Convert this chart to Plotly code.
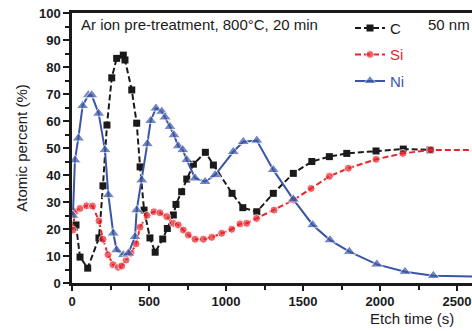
import plotly.graph_objects as go

# Depth profile: atomic percent vs etch time
c_time = [26, 52, 102, 175, 201, 227, 258, 290, 333, 344, 388, 420, 442, 468, 506, 540,
          589, 619, 658, 675, 712, 745, 788, 866, 918, 1039, 1109, 1200, 1307, 1437,
          1557, 1671, 1784, 1974, 2151, 2325]
c_val = [21.5, 9.6, 5.5, 16.7, 36, 58.5, 76, 83.2, 84.4, 82.6, 71.5, 59.2, 43, 27, 16.7, 11.4,
         16.3, 20.2, 25.2, 29.1, 33.8, 38.5, 44, 48.4, 43.7, 33.2, 27.9, 26.4, 33.2, 40.6,
         45, 46.8, 48, 48.9, 49.6, 49.3]

si_time = [5, 19, 52, 95, 133, 175, 201, 234, 266, 301, 323, 351, 383, 416, 442, 487, 532,
           571, 615, 658, 690, 723, 755, 799, 853, 907, 972, 1037, 1091, 1134, 1198, 1312,
           1437, 1552, 1671, 1794, 1974, 2148, 2329, 2700]
si_val = [19.6, 26.4, 27.6, 28.6, 28.5, 23, 16.2, 10.5, 6.8, 5.8, 6.3, 8.5, 11, 14.5, 20.7, 25,
          26.4, 26, 24.6, 22.1, 21.5, 19.6, 17.8, 16.2, 16.2, 16.9, 18.4, 19.9, 21.9, 22.1,
          23.9, 27, 30.7, 35, 39.5, 42.5, 45.8, 48, 49.3, 49.3]

ni_time = [6, 19, 41, 69, 106, 128, 173, 214, 236, 268, 290, 333, 366, 409, 420, 453, 489, 511,
           545, 583, 604, 636, 662, 690, 719, 745, 799, 864, 929, 1047, 1112, 1200, 1307, 1437,
           1563, 1675, 1801, 1979, 2162, 2346, 2700]
ni_val = [25, 45.5, 53.6, 65.6, 69.6, 69.6, 62.8, 49.3, 32.6, 18.4, 12.2, 10.4, 11, 17.1, 27,
          38.1, 51.5, 60.1, 64.7, 63.5, 61.4, 57.9, 54.8, 50.7, 49.3, 45.6, 38.8, 37.5, 40, 48.6,
          52.3, 52.8, 41.9, 31, 21.5, 15.9, 11.6, 6.9, 4.2, 2.7, 2.3]

x_ticks = [0, 500, 1000, 1500, 2000, 2500]
y_ticks = [0, 10, 20, 30, 40, 50, 60, 70, 80, 90, 100]

BLACK = "#1a1a1a"
RED = "#e8242b"
BLUE = "#3a55a6"
FONT = "Liberation Sans, Arial, sans-serif"


def sizes(n, s, tail_hidden):
    out = [s] * n
    if tail_hidden:
        out[-1] = 0
    return out


fig = go.Figure()
fig.add_trace(go.Scatter(
    x=c_time, y=c_val, mode="lines+markers", name="C", legendgroup="c",
    line=dict(color=BLACK, width=2, dash="6px,3px"),
    marker=dict(symbol="square", size=7, color=BLACK),
))
fig.add_trace(go.Scatter(
    x=si_time, y=si_val, mode="lines+markers",
    name='<span style="color:%s">Si</span>' % RED, legendgroup="si",
    line=dict(color=RED, width=2, dash="6px,3px"),
    marker=dict(symbol="circle", size=sizes(len(si_val), 8, True), color=RED),
))
fig.add_trace(go.Scatter(
    x=ni_time, y=ni_val, mode="lines+markers",
    name='<span style="color:%s">Ni</span>' % BLUE, legendgroup="ni",
    line=dict(color=BLUE, width=2),
    marker=dict(symbol="triangle-up", size=sizes(len(ni_val), 11, True), color=BLUE),
))

fig.add_annotation(text="Ar ion pre-treatment, 800°C, 20 min", xref="paper", yref="paper",
                   x=0.018, y=0.995, xanchor="left", yanchor="top", showarrow=False,
                   font=dict(family=FONT, size=15, color=BLACK))
fig.add_annotation(text="50 nm", xref="paper", yref="paper",
                   x=1.0, y=0.995, xanchor="right", yanchor="top", showarrow=False,
                   font=dict(family=FONT, size=15, color=BLACK))
fig.add_annotation(text="Etch time (s)", xref="paper", yref="paper",
                   x=0.96, y=-0.13, xanchor="right", yanchor="middle", showarrow=False,
                   font=dict(family=FONT, size=15, color=BLACK))

fig.update_layout(
    width=472, height=331,
    margin=dict(l=72, r=0, t=13, b=48),
    paper_bgcolor="white", plot_bgcolor="white",
    font=dict(family=FONT, color=BLACK),
    showlegend=True,
    legend=dict(x=0.695, y=1.005, xanchor="left", yanchor="top",
                bgcolor="rgba(0,0,0,0)", font=dict(size=15, color=BLACK),
                tracegroupgap=4, itemwidth=30),
    xaxis=dict(range=[0, 2597], tickvals=x_ticks, ticktext=[str(v) for v in x_ticks],
               showgrid=False, zeroline=False, showline=True, linecolor=BLACK, linewidth=2.5,
               mirror=True, ticks="outside", ticklen=5, tickwidth=2, tickcolor=BLACK,
               tickfont=dict(family=FONT, size=13, color=BLACK, weight="bold"),
               minor=dict(tickvals=[250, 750, 1250, 1750, 2250], ticks="outside",
                          ticklen=4, tickwidth=2, tickcolor=BLACK)),
    yaxis=dict(range=[0, 100], tickvals=y_ticks, ticktext=[str(v) for v in y_ticks],
               showgrid=False, zeroline=False, showline=True, linecolor=BLACK, linewidth=2.5,
               ticks="outside", ticklen=6, tickwidth=2, tickcolor=BLACK,
               tickfont=dict(family=FONT, size=13, color=BLACK, weight="bold"),
               minor=dict(tickvals=[5, 15, 25, 35, 45, 55, 65, 75, 85, 95], ticks="outside",
                          ticklen=4, tickwidth=2, tickcolor=BLACK),
               title=dict(text="Atomic percent (%)", standoff=8,
                          font=dict(family=FONT, size=15, color=BLACK))),
)

fig.write_html("out.html")
